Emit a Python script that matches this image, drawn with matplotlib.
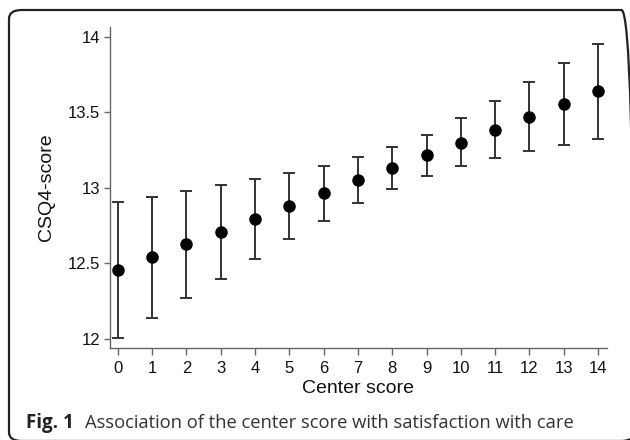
import matplotlib
matplotlib.use("Agg")
import matplotlib.pyplot as plt
from matplotlib.patches import FancyBboxPatch

center_score = list(range(15))
csq4_mean = [12.457, 12.541, 12.627, 12.71, 12.795, 12.879, 12.965, 13.051,
             13.134, 13.219, 13.30, 13.386, 13.472, 13.558, 13.642]
ci_low = [12.007, 12.137, 12.27, 12.40, 12.53, 12.66, 12.783, 12.899,
          12.995, 13.08, 13.148, 13.199, 13.245, 13.287, 13.326]
ci_high = [12.909, 12.942, 12.98, 13.02, 13.058, 13.10, 13.148, 13.203,
           13.27, 13.351, 13.462, 13.578, 13.70, 13.828, 13.956]
y_ticks = [12, 12.5, 13, 13.5, 14]
y_tick_labels = ["12", "12.5", "13", "13.5", "14"]

W, H = 630, 440
fig = plt.figure(figsize=(W / 100, H / 100), dpi=100)

# rounded frame
frame = FancyBboxPatch((9 / W, 1 - 441 / H), (634 - 9) / W, (441 - 10) / H,
                       boxstyle="round,pad=0,rounding_size=0.02",
                       transform=fig.transFigure, fill=False,
                       edgecolor="#222222", linewidth=1.6, clip_on=False)
fig.patches.append(frame)

ax = fig.add_axes([110 / W, 1 - 348 / H, (607 - 110) / W, (348 - 27) / H])

yerr = [[m - l for m, l in zip(csq4_mean, ci_low)],
        [h - m for m, h in zip(csq4_mean, ci_high)]]
ax.errorbar(center_score, csq4_mean, yerr=yerr, fmt="o", color="black",
            ecolor="#333333", elinewidth=1.4, capsize=4, capthick=1.4,
            markersize=8, zorder=3)

ax.set_xlim(-0.23, 14.26)
ax.set_ylim(11.94, 14.066)
ax.set_xticks(center_score)
ax.set_xticklabels([str(c) for c in center_score])
ax.set_yticks(y_ticks)
ax.set_yticklabels(y_tick_labels)

for s in ["top", "right"]:
    ax.spines[s].set_visible(False)
for s in ["left", "bottom"]:
    ax.spines[s].set_color("#666666")
    ax.spines[s].set_linewidth(1.0)
ax.tick_params(axis="both", colors="#666666", labelcolor="#111111",
               labelsize=12, length=4, width=1.0)
ax.tick_params(axis="y", pad=3)
ax.tick_params(axis="x", length=5, pad=4)
for lab in ax.get_xticklabels() + ax.get_yticklabels():
    lab.set_family("Liberation Sans")

ax.set_xlabel("Center score", fontsize=14, family="Liberation Sans",
              color="#111111", labelpad=3)
ax.set_ylabel("CSQ4-score", fontsize=14, family="Liberation Sans",
              color="#111111", labelpad=9)

fig.text(26 / W, 1 - 428 / H, "Fig. 1", fontsize=13.5, fontweight="bold",
         family="Open Sans", color="#222222", ha="left", va="baseline")
fig.text(85 / W, 1 - 428 / H,
         "Association of the center score with satisfaction with care",
         fontsize=13.2, family="Open Sans", color="#333333",
         ha="left", va="baseline")

fig.savefig("out.png", dpi=100)
